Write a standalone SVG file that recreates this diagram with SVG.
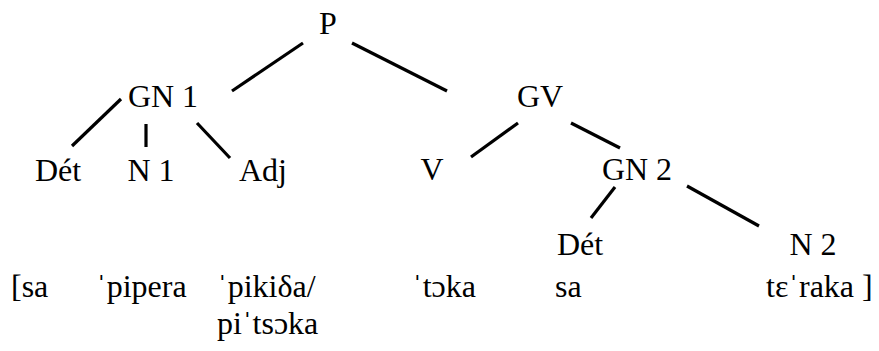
<svg xmlns="http://www.w3.org/2000/svg" width="879" height="351" viewBox="0 0 879 351">
<style>
text{font-family:'Liberation Serif','Times New Roman',serif;font-size:32px;fill:#000}
.n{text-anchor:middle}
line{stroke:#000;stroke-width:3.2;stroke-linecap:butt}
</style>
<rect width="879" height="351" fill="#fff"/>
<g id="connectors">
<line x1="232" y1="91" x2="303" y2="43"/>
<line x1="352" y1="43" x2="447" y2="91"/>
<line x1="72" y1="146" x2="121" y2="99"/>
<line x1="146" y1="124" x2="146" y2="147"/>
<line x1="197" y1="123" x2="230" y2="158"/>
<line x1="471" y1="157" x2="518" y2="123"/>
<line x1="571" y1="123" x2="620" y2="148"/>
<line x1="591" y1="218" x2="615" y2="187"/>
<line x1="687" y1="186" x2="759" y2="226"/>
</g>
<g id="P"><text class="n" x="328" y="34">P</text></g>
<g id="GN1"><text class="n" x="163" y="107">GN 1</text></g>
<g id="GV"><text class="n" x="540" y="107">GV</text></g>
<g id="Det1"><text class="n" x="58" y="181">Dét</text></g>
<g id="N1"><text class="n" x="151" y="181">N 1</text></g>
<g id="Adj"><text class="n" x="263" y="181">Adj</text></g>
<g id="V"><text class="n" x="432" y="180">V</text></g>
<g id="GN2"><text class="n" x="637" y="180">GN 2</text></g>
<g id="Det2"><text class="n" x="580" y="255">Dét</text></g>
<g id="N2"><text class="n" x="813" y="255">N 2</text></g>
<g id="transcription">
<text x="11" y="297">[sa</text>
<text x="96" y="297">ˈpipera</text>
<text x="217" y="297">ˈpikiδa/</text>
<text x="217" y="334">piˈtsɔka</text>
<text x="412" y="297">ˈtɔka</text>
<text x="555" y="297">sa</text>
<text x="766" y="297">tɛˈraka ]</text>
</g>
</svg>
